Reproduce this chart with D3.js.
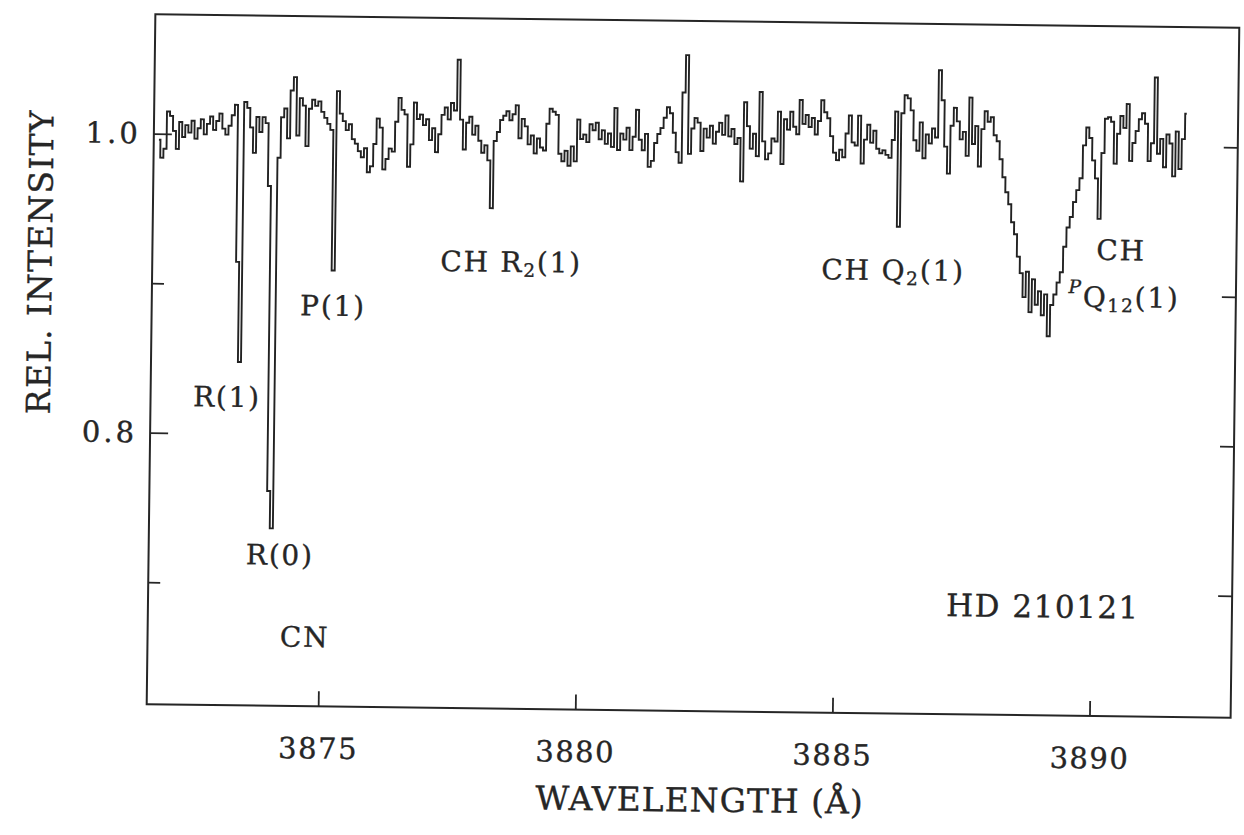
<!DOCTYPE html>
<html><head><meta charset="utf-8">
<script src="https://cdn.jsdelivr.net/npm/d3@7"></script>
<style>
body{margin:0;background:#fff}
svg{display:block}
text{font-family:"DejaVu Serif","Liberation Serif",serif;fill:#262626;stroke:#262626;stroke-width:0.35px}
</style>
</head><body>
<svg id="chart" width="1244" height="835"></svg>
<script>
// ---- data ----
const lambdaStart = 3871.765;  // first bin wavelength (Å)
const lambdaStep = 0.06;       // bin width (Å)
const segA = [0.996,0.984,0.990,1.015,1.012,1.002,0.990,1.008,0.998,1.006,
 1.001,1.009,0.997,1.004,1.010,1.000,1.007,1.012,1.003,1.009,
 1.014,1.004,1.000,1.006,1.013,1.020,0.915,0.848,1.022,1.018,
 1.005,0.988,1.012,1.002,1.012,1.008,0.966,0.762,0.737,0.985,
 1.012,1.018,0.998,1.030,1.039,1.000,1.025,1.020,0.993,1.018,
 1.024,1.020,1.023,1.016,1.012,1.008,1.004,0.910,1.030];
const segB = [1.015,1.010,1.004,1.008,0.998,0.995,0.990,0.986,0.992,0.976,
 0.980,0.995,1.012,1.006,0.978,0.985,0.992,0.990,1.010,1.026,
 1.018,1.015,0.980,0.995,1.023,1.012,1.015,1.008,1.012,0.998,
 1.006,0.990,1.002,1.015,1.020,1.012,1.023,1.018,1.052,1.012,
 0.992,1.010,1.014,1.002,1.008,0.998,0.990,0.995,0.985,0.953,
 0.998,1.004,1.012,1.015,1.018,1.012,1.016,1.022,1.000,1.013,
 1.008,0.996,1.002,0.990,1.000,0.994,0.992,1.010,1.020,1.018,
 1.016,0.990,0.985,0.992,0.982,0.995,0.985];
const segC = [1.013,1.000,1.003,0.998,1.010,1.006,1.011,1.000,1.006,0.997,
 1.004,0.995,1.021,0.993,1.004,1.000,1.008,0.993,1.002,1.020,
 1.000,0.993,1.004,0.982,0.986,0.998,1.004,1.008,1.015,1.022,
 1.018,1.005,0.992,0.985,1.032,1.057,0.991,1.008,1.015,1.012,
 0.993,1.008,1.002,1.010,0.998,1.006,1.012,1.004,1.017,1.003,
 1.008,0.998,1.002,0.973,1.026,1.010,0.995,1.005,0.990,1.033,
 1.000,0.988,0.992,1.002,1.000,1.020,0.985];
const segD = [1.015,1.008,1.020,1.010,1.005,1.028,1.012,1.018,1.010,1.016,
 1.005,1.014,1.028,1.020,1.016,1.004,0.993,0.988,0.995,0.990,
 1.006,1.018,1.000,0.998,1.018,0.986,1.002,1.012,1.000,1.008,
 0.996,0.993,0.995,0.992,0.990,1.002,1.021,0.944,1.020,1.032,
 1.030,1.022,1.002,0.995,1.014,0.990,1.006,1.000,1.010,1.004,
 1.049,1.029,0.998,0.980,1.012,1.024,1.015,1.003,1.008,0.992,
 1.031,1.000,1.012,0.985,1.010,1.022,1.015,1.018];
const segE = [1.006,1.002,0.990,0.978,0.968,0.960,0.948,0.940,0.925,0.914,
 0.898,0.915,0.888,0.910,0.893,0.902,0.886,0.900,0.872,0.893,
 0.900,0.908,0.915,0.932,0.945,0.952,0.962,0.970,0.978,1.000,
 1.012,1.005,0.990,0.978,0.951,0.995,1.018,1.019,1.016,0.988,
 1.008,1.020,1.012,1.028,0.990,1.002,1.010,1.018,1.022,1.015,
 0.990,1.002,1.046,0.995,1.005,0.986,1.008,1.002,0.980,1.010,
 0.985,1.005,1.022];

const xDomain = [3871.665, 3892.745];
const yDomain = [0.6184, 1.0799];
const xTicks = [3875, 3880, 3885, 3890];
const yTicksLabeled = [1.0, 0.8];
const yTicksMinor = [0.9, 0.7];
const yTicksRight = [1.0, 0.9, 0.8, 0.7];

const annText = ["R(1)", "R(0)", "CN", "P(1)", "CH R_{2}(1)", "CH Q_{2}(1)", "CH", "^{P}Q_{12}(1)", "HD 210121"];
const annLambda = [3873.151, 3874.218, 3874.722, 3875.191, 3878.643, 3886.074, 3890.502, 3890.572, 3889.069];
const annInt = [0.8247, 0.7195, 0.6648, 0.8864, 0.9173, 0.9150, 0.9302, 0.8987, 0.6914];

const xTitle = "WAVELENGTH (Å)";
const yTitle = "REL. INTENSITY";

// ---- drawing ----
const svg = d3.select("#chart");
const g = svg.append("g").attr("transform", "rotate(0.72,693,365)");
const x = d3.scaleLinear().domain(xDomain).range([151, 1235]);
const y = d3.scaleLinear().domain(yDomain).range([711, 21]);

const intensity = [].concat(segA, segB, segC, segD, segE);
const spectrum = intensity.map((v, i) => ({ l: lambdaStart + i * lambdaStep, v }));

const ink = "#262626";

// frame
g.append("rect").attr("x", x.range()[0]).attr("y", y.range()[1])
  .attr("width", x.range()[1] - x.range()[0]).attr("height", y.range()[0] - y.range()[1])
  .attr("fill", "none").attr("stroke", ink).attr("stroke-width", 2);

function styleAxis(sel) {
  sel.select(".domain").remove();
  sel.selectAll(".tick line").attr("stroke", ink).attr("stroke-width", 1.8);
  sel.selectAll("text").style("font-family", '"DejaVu Serif",serif').attr("fill", "#262626");
}

// bottom axis
const gx = g.append("g").attr("transform", `translate(0,${y.range()[0]})`)
  .call(d3.axisBottom(x).tickValues(xTicks).tickSize(-15).tickSizeOuter(0).tickFormat(d3.format("d")));
styleAxis(gx);
gx.selectAll("text").attr("y", 42).attr("dy", "0.35em").attr("font-size", 29).attr("letter-spacing", 1.5);

// left axis
const gy = g.append("g").attr("transform", `translate(${x.range()[0]},0)`)
  .call(d3.axisLeft(y).tickValues(yTicksLabeled).tickSize(-18).tickPadding(13).tickFormat(d3.format(".1f")));
styleAxis(gy);
gy.selectAll("text").attr("font-size", 29).attr("letter-spacing", 3);
const gy2 = g.append("g").attr("transform", `translate(${x.range()[0]},0)`)
  .call(d3.axisLeft(y).tickValues(yTicksMinor).tickSize(-12).tickFormat(""));
styleAxis(gy2);

// right axis
const gr = g.append("g").attr("transform", `translate(${x.range()[1]},0)`)
  .call(d3.axisRight(y).tickValues(yTicksRight).tickSize(-14).tickFormat(""));
styleAxis(gr);

// spectrum
const line = d3.line().x(d => x(d.l)).y(d => y(d.v)).curve(d3.curveStep);
g.append("path").datum(spectrum).attr("d", line)
  .attr("fill", "none").attr("stroke", "#222").attr("stroke-width", 1.9)
  .attr("stroke-linejoin", "miter");

// annotations with simple sub/superscript markup
function richText(sel, str, fs) {
  const parts = str.match(/(\^\{[^}]*\}|_\{[^}]*\}|[^_^]+)/g);
  let shift = 0;
  parts.forEach(p => {
    let t = p, dy = 0, size = fs, italic = false;
    if (p.startsWith("_{")) { t = p.slice(2, -1); dy = fs * 0.28; size = fs * 0.66; }
    else if (p.startsWith("^{")) { t = p.slice(2, -1); dy = -fs * 0.38; size = fs * 0.66; italic = true; }
    const ts = sel.append("tspan").attr("dy", dy - shift).attr("font-size", size).text(t);
    if (italic) ts.attr("font-style", "italic");
    shift = dy;
  });
}
annText.forEach((t, i) => {
  const isHD = t.startsWith("HD");
  const fs = isHD ? 31 : 28;
  const txt = g.append("text").attr("x", x(annLambda[i])).attr("y", y(annInt[i]))
    .attr("text-anchor", "middle").attr("dominant-baseline", "central")
    .attr("font-size", fs).attr("letter-spacing", isHD ? 1.5 : 1.8);
  richText(txt, t, fs);
});

// axis titles
g.append("text").attr("transform", "translate(39,270) rotate(-90)")
  .attr("text-anchor", "middle").attr("dominant-baseline", "central")
  .attr("font-size", 33).attr("letter-spacing", 1.2).text(yTitle);
g.append("text").attr("x", 705).attr("y", 800)
  .attr("text-anchor", "middle").attr("dominant-baseline", "central")
  .attr("font-size", 33).attr("letter-spacing", 1).text(xTitle);
</script>
</body></html>
